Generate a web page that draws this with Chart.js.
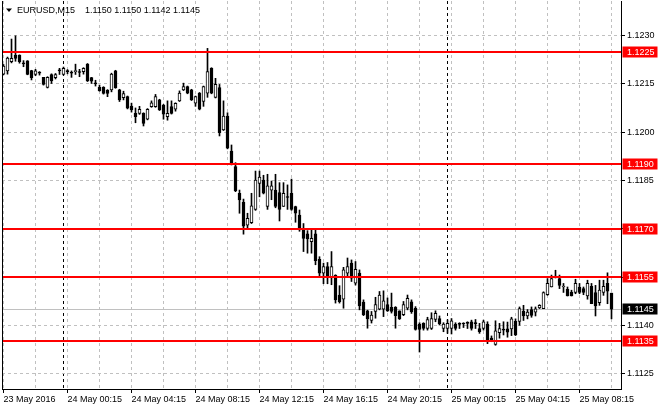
<!DOCTYPE html>
<html>
<head>
<meta charset="utf-8">
<script src="https://cdn.jsdelivr.net/npm/chart.js@4.4.1/dist/chart.umd.min.js"></script>
<style>
  html, body { margin: 0; padding: 0; background: #fff; }
  #wrap { width: 660px; height: 410px; }
</style>
</head>
<body>
<div id="wrap"><canvas id="chart" width="660" height="410"></canvas></div>
<script>
// EURUSD M15, 23 May 20:15 .. 25 May 10:15 (one entry per bar)
const opens = [
  1.12180, 1.12190, 1.12219, 1.12239, 1.12239, 1.12215, 1.12221, 1.12191, 1.12179, 1.12183,
  1.12170, 1.12139, 1.12179, 1.12169, 1.12190, 1.12179, 1.12188, 1.12183, 1.12188, 1.12185,
  1.12188, 1.12211, 1.12169, 1.12152, 1.12139, 1.12139, 1.12130, 1.12131, 1.12190, 1.12131,
  1.12107, 1.12110, 1.12081, 1.12058, 1.12058, 1.12058, 1.12040, 1.12079, 1.12079, 1.12100,
  1.12084, 1.12048, 1.12079, 1.12071, 1.12097, 1.12131, 1.12141, 1.12131, 1.12090, 1.12121,
  1.12095, 1.12121, 1.12198, 1.12108, 1.12138, 1.12007, 1.12050, 1.11941, 1.11893, 1.11810,
  1.11782, 1.11711, 1.11719, 1.11760, 1.11841, 1.11851, 1.11769, 1.11820, 1.11820, 1.11812,
  1.11769, 1.11797, 1.11810, 1.11769, 1.11742, 1.11701, 1.11684, 1.11660, 1.11684, 1.11605,
  1.11562, 1.11582, 1.11551, 1.11555, 1.11494, 1.11481, 1.11562, 1.11593, 1.11531, 1.11562,
  1.11472, 1.11445, 1.11415, 1.11443, 1.11450, 1.11450, 1.11464, 1.11456, 1.11456, 1.11445,
  1.11433, 1.11453, 1.11473, 1.11453, 1.11404, 1.11406, 1.11390, 1.11390, 1.11418, 1.11421,
  1.11390, 1.11390, 1.11390, 1.11404, 1.11404, 1.11404, 1.11406, 1.11411, 1.11406, 1.11390,
  1.11390, 1.11404, 1.11360, 1.11341, 1.11377, 1.11385, 1.11389, 1.11389, 1.11412, 1.11412,
  1.11443, 1.11429, 1.11449, 1.11441, 1.11454, 1.11452, 1.11495, 1.11519, 1.11550, 1.11545,
  1.11519, 1.11512, 1.11503, 1.11502, 1.11519, 1.11514, 1.11491, 1.11521, 1.11502, 1.11470,
  1.11502, 1.11530, 1.11500
];
const highs = [
  1.12210, 1.12233, 1.12289, 1.12299, 1.12240, 1.12222, 1.12222, 1.12192, 1.12195, 1.12188,
  1.12170, 1.12172, 1.12181, 1.12182, 1.12198, 1.12202, 1.12194, 1.12190, 1.12211, 1.12195,
  1.12200, 1.12213, 1.12170, 1.12161, 1.12146, 1.12141, 1.12132, 1.12183, 1.12192, 1.12133,
  1.12127, 1.12112, 1.12090, 1.12075, 1.12080, 1.12060, 1.12073, 1.12097, 1.12117, 1.12102,
  1.12086, 1.12097, 1.12097, 1.12091, 1.12128, 1.12152, 1.12143, 1.12133, 1.12112, 1.12123,
  1.12143, 1.12260, 1.12200, 1.12167, 1.12148, 1.12097, 1.12060, 1.11960, 1.11905, 1.11820,
  1.11792, 1.11748, 1.11810, 1.11879, 1.11879, 1.11866, 1.11869, 1.11848, 1.11869, 1.11843,
  1.11843, 1.11836, 1.11854, 1.11770, 1.11758, 1.11716, 1.11694, 1.11696, 1.11696, 1.11613,
  1.11593, 1.11595, 1.11629, 1.11557, 1.11523, 1.11580, 1.11609, 1.11603, 1.11598, 1.11572,
  1.11479, 1.11447, 1.11443, 1.11487, 1.11505, 1.11507, 1.11485, 1.11500, 1.11458, 1.11445,
  1.11474, 1.11494, 1.11479, 1.11458, 1.11408, 1.11408, 1.11425, 1.11439, 1.11445, 1.11429,
  1.11408, 1.11417, 1.11421, 1.11408, 1.11408, 1.11408, 1.11411, 1.11416, 1.11418, 1.11406,
  1.11416, 1.11411, 1.11367, 1.11414, 1.11406, 1.11411, 1.11410, 1.11425, 1.11420, 1.11457,
  1.11462, 1.11449, 1.11457, 1.11457, 1.11464, 1.11504, 1.11545, 1.11556, 1.11571, 1.11556,
  1.11530, 1.11519, 1.11509, 1.11543, 1.11530, 1.11519, 1.11540, 1.11530, 1.11524, 1.11540,
  1.11540, 1.11563, 1.11500
];
const lows = [
  1.12178, 1.12180, 1.12215, 1.12220, 1.12214, 1.12203, 1.12178, 1.12162, 1.12175, 1.12177,
  1.12146, 1.12137, 1.12151, 1.12165, 1.12179, 1.12177, 1.12181, 1.12170, 1.12179, 1.12172,
  1.12180, 1.12157, 1.12151, 1.12143, 1.12127, 1.12118, 1.12110, 1.12125, 1.12136, 1.12095,
  1.12100, 1.12072, 1.12062, 1.12029, 1.12055, 1.12019, 1.12038, 1.12077, 1.12077, 1.12067,
  1.12040, 1.12037, 1.12056, 1.12065, 1.12095, 1.12129, 1.12119, 1.12098, 1.12080, 1.12069,
  1.12080, 1.12108, 1.12119, 1.12106, 1.11988, 1.12005, 1.11948, 1.11898, 1.11815, 1.11748,
  1.11683, 1.11700, 1.11716, 1.11757, 1.11799, 1.11808, 1.11760, 1.11790, 1.11765, 1.11724,
  1.11769, 1.11760, 1.11757, 1.11720, 1.11692, 1.11629, 1.11624, 1.11624, 1.11588, 1.11551,
  1.11529, 1.11529, 1.11526, 1.11469, 1.11469, 1.11453, 1.11551, 1.11536, 1.11525, 1.11448,
  1.11430, 1.11391, 1.11407, 1.11422, 1.11448, 1.11427, 1.11443, 1.11438, 1.11391, 1.11418,
  1.11430, 1.11448, 1.11437, 1.11385, 1.11317, 1.11385, 1.11385, 1.11387, 1.11411, 1.11401,
  1.11380, 1.11375, 1.11373, 1.11385, 1.11390, 1.11393, 1.11390, 1.11385, 1.11390, 1.11375,
  1.11385, 1.11343, 1.11349, 1.11338, 1.11360, 1.11370, 1.11363, 1.11368, 1.11368, 1.11400,
  1.11415, 1.11420, 1.11425, 1.11429, 1.11452, 1.11452, 1.11493, 1.11519, 1.11547, 1.11514,
  1.11502, 1.11491, 1.11491, 1.11498, 1.11498, 1.11495, 1.11481, 1.11467, 1.11429, 1.11462,
  1.11493, 1.11467, 1.11420
];
const closes = [
  1.12205, 1.12230, 1.12229, 1.12229, 1.12219, 1.12212, 1.12179, 1.12169, 1.12190, 1.12183,
  1.12148, 1.12170, 1.12159, 1.12179, 1.12190, 1.12198, 1.12188, 1.12183, 1.12190, 1.12185,
  1.12198, 1.12159, 1.12158, 1.12150, 1.12129, 1.12120, 1.12120, 1.12180, 1.12138, 1.12100,
  1.12120, 1.12074, 1.12069, 1.12048, 1.12071, 1.12027, 1.12071, 1.12091, 1.12110, 1.12069,
  1.12056, 1.12058, 1.12058, 1.12089, 1.12121, 1.12141, 1.12121, 1.12100, 1.12110, 1.12071,
  1.12141, 1.12188, 1.12121, 1.12148, 1.11998, 1.12050, 1.11950, 1.11900, 1.11818, 1.11789,
  1.11708, 1.11732, 1.11771, 1.11851, 1.11860, 1.11810, 1.11833, 1.11833, 1.11769, 1.11760,
  1.11810, 1.11797, 1.11760, 1.11748, 1.11701, 1.11670, 1.11668, 1.11670, 1.11601, 1.11562,
  1.11582, 1.11551, 1.11582, 1.11479, 1.11473, 1.11572, 1.11582, 1.11546, 1.11574, 1.11460,
  1.11433, 1.11420, 1.11432, 1.11464, 1.11494, 1.11476, 1.11445, 1.11443, 1.11430, 1.11420,
  1.11464, 1.11484, 1.11442, 1.11387, 1.11387, 1.11390, 1.11418, 1.11421, 1.11437, 1.11404,
  1.11404, 1.11406, 1.11414, 1.11390, 1.11403, 1.11404, 1.11406, 1.11390, 1.11405, 1.11380,
  1.11411, 1.11355, 1.11352, 1.11383, 1.11390, 1.11385, 1.11379, 1.11420, 1.11370, 1.11452,
  1.11429, 1.11441, 1.11431, 1.11451, 1.11462, 1.11502, 1.11530, 1.11545, 1.11550, 1.11524,
  1.11520, 1.11491, 1.11491, 1.11530, 1.11502, 1.11502, 1.11530, 1.11467, 1.11460, 1.11509,
  1.11521, 1.11506, 1.11450
];

// axis stuff
const priceTicks = [1.1125, 1.1140, 1.1155, 1.1170, 1.1185, 1.1200, 1.1215, 1.1230];
const timeLabels = ['23 May 2016', '24 May 00:15', '24 May 04:15', '24 May 08:15', '24 May 12:15',
                    '24 May 16:15', '24 May 20:15', '25 May 00:15', '25 May 04:15', '25 May 08:15'];
const labelBars = [0, 16, 32, 48, 64, 80, 96, 112, 128, 144];
const gridBars = [0, 8, 16, 24, 32, 40, 48, 56, 64, 72, 80, 88, 96, 104, 112, 120, 128, 136, 144, 152];
const separatorBars = [15, 111];   // day breaks
const levels = [1.1225, 1.1190, 1.1170, 1.1155, 1.1135];
const symbol = 'EURUSD,M15';

const FONT = { family: "'Liberation Sans', Arial, sans-serif", size: 9 };
const last = closes.length - 1;

// chart.js reserves room for edge labels, we don't want that here
const noPad = s => { s.paddingTop = 0; s.paddingBottom = 0; s.paddingLeft = 0; s.paddingRight = 0; };

const overlay = {
  id: 'overlay',
  beforeDatasetsDraw(chart) {
    const { ctx, chartArea: a, scales: { y } } = chart;
    const py = Math.round(y.getPixelForValue(closes[last])) + 0.5;
    ctx.save();
    ctx.strokeStyle = '#c0c0c0';
    ctx.lineWidth = 1;
    ctx.beginPath();
    ctx.moveTo(a.left, py);
    ctx.lineTo(a.right, py);
    ctx.stroke();
    ctx.restore();
  },
  afterDatasetsDraw(chart) {
    const { ctx, chartArea: a, scales: { y } } = chart;
    ctx.save();
    ctx.strokeStyle = '#ff0000';
    ctx.lineWidth = 2;
    levels.forEach(lv => {
      const py = Math.round(y.getPixelForValue(lv));
      ctx.beginPath();
      ctx.moveTo(a.left, py);
      ctx.lineTo(a.right, py);
      ctx.stroke();
    });
    // left edge of the frame
    ctx.strokeStyle = '#000';
    ctx.lineWidth = 1;
    ctx.beginPath();
    ctx.moveTo(a.left + 0.5, a.top);
    ctx.lineTo(a.left + 0.5, a.bottom);
    ctx.stroke();
    ctx.restore();
  },
  afterDraw(chart) {
    const { ctx, chartArea: a, scales: { y } } = chart;
    ctx.save();
    ctx.font = FONT.size + 'px ' + FONT.family;
    ctx.textBaseline = 'middle';
    ctx.textAlign = 'left';

    const box = (val, bg) => {
      const py = Math.round(y.getPixelForValue(val));
      ctx.fillStyle = bg;
      ctx.fillRect(a.right + 1.5, py - 5.5, 35, 11);
      ctx.fillStyle = '#fff';
      ctx.fillText(val.toFixed(4), a.right + 6, py + 0.5);
    };
    levels.forEach(lv => box(lv, '#ff0000'));
    box(closes[last], '#000');

    // header: symbol + OHLC of the last bar
    ctx.fillStyle = '#000';
    ctx.beginPath();
    ctx.moveTo(6, 8.5);
    ctx.lineTo(12, 8.5);
    ctx.lineTo(9, 12);
    ctx.closePath();
    ctx.fill();
    ctx.fillText(symbol, 17, 11);
    const ohlc = [opens[last], highs[last], lows[last], closes[last]].map(v => v.toFixed(4)).join(' ');
    ctx.fillText(ohlc, 85, 11);
    ctx.restore();
  }
};

new Chart(document.getElementById('chart'), {
  type: 'bar',
  data: {
    datasets: [
      {
        label: 'wick',
        data: lows.map((l, i) => ({ x: i, y: [l, highs[i]] })),
        backgroundColor: '#000',
        borderWidth: 0,
        barThickness: 1,
        grouped: false,
        order: 2
      },
      {
        label: 'body',
        data: opens.map((o, i) => ({ x: i, y: [o, closes[i]] })),
        backgroundColor: ctx => {
          const i = ctx.dataIndex;
          return closes[i] > opens[i] ? '#fff' : '#000';
        },
        borderColor: '#000',
        borderWidth: 1,
        borderSkipped: false,
        barThickness: 3,
        minBarLength: 1,
        grouped: false,
        order: 1
      }
    ]
  },
  options: {
    responsive: false,
    animation: false,
    devicePixelRatio: 1,
    layout: { padding: { left: 2, top: 1, right: 0, bottom: 0 } },
    plugins: { legend: { display: false }, tooltip: { enabled: false } },
    scales: {
      x: {
        type: 'linear',
        position: 'bottom',
        offset: false,
        min: -0.375,
        max: -0.375 + 619 / 4,
        afterBuildTicks: s => { s.ticks = labelBars.map(v => ({ value: v })); },
        afterFit: s => { s.height = 21; noPad(s); },
        ticks: {
          autoSkip: false,
          maxRotation: 0,
          align: 'start',
          padding: 1,
          color: '#000',
          font: FONT,
          callback: (v, i) => timeLabels[i]
        },
        grid: { offset: false, drawOnChartArea: false, drawTicks: true, tickLength: 4, tickColor: '#000' },
        border: { display: true, color: '#000' }
      },
      x2: {
        type: 'linear',
        position: 'top',
        offset: false,
        min: -0.375,
        max: -0.375 + 619 / 4,
        afterBuildTicks: s => {
          s.ticks = gridBars.concat(separatorBars).sort((p, q) => p - q).map(v => ({ value: v }));
        },
        afterFit: s => { s.height = 0; noPad(s); },
        ticks: { display: false },
        grid: {
          offset: false,
          drawTicks: false,
          color: c => separatorBars.includes(c.tick && c.tick.value) ? '#000' : '#c0c0c0'
        },
        border: { display: false, dash: [3, 3] }
      },
      y: {
        type: 'linear',
        position: 'right',
        min: 1.1230 - 388 / 32200 + 34.5 / 32200,
        max: 1.1230 + 34.5 / 32200,
        afterBuildTicks: s => { s.ticks = priceTicks.map(v => ({ value: v })); },
        afterFit: s => { s.width = 39; noPad(s); },
        ticks: {
          padding: 2,
          color: '#000',
          font: FONT,
          callback: v => v.toFixed(4)
        },
        grid: { color: '#c0c0c0', drawTicks: true, tickLength: 4, tickColor: '#000' },
        border: { display: true, color: '#000', dash: [3, 3] }
      }
    }
  },
  plugins: [overlay]
});
</script>
</body>
</html>
